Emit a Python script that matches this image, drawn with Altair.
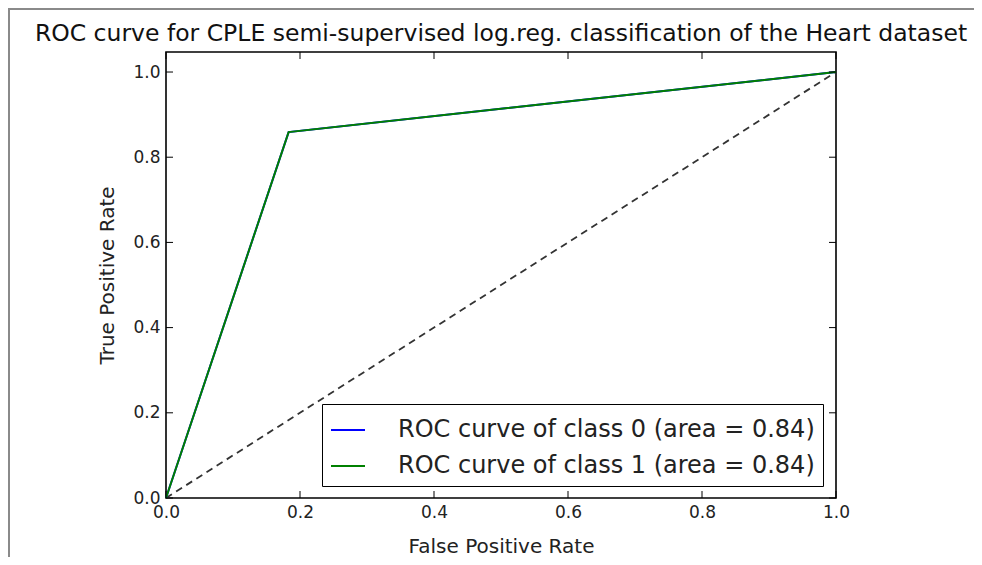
import altair as alt
import pandas as pd

# ---- data ----
fpr = [0.0, 0.183, 1.0]
tpr = [0.0, 0.859, 1.0]
class_labels = ["ROC curve of class 0 (area = 0.84)", "ROC curve of class 1 (area = 0.84)"]
class_colors = ["#0000ff", "#008000"]
diag_x = [0.0, 1.0]
diag_y = [0.0, 1.0]
tick_values = [0.0, 0.2, 0.4, 0.6, 0.8, 1.0]

W, H = 670, 446
TL = 7  # inward tick length
FONT = "DejaVu Sans"

roc_rows = []
for lab in class_labels:
    for fx, ty in zip(fpr, tpr):
        roc_rows.append({"fpr": fx, "tpr": ty, "series": lab})
roc_df = pd.DataFrame(roc_rows)
diag_df = pd.DataFrame({"fpr": diag_x, "tpr": diag_y})
ticks_df = pd.DataFrame({"t": tick_values})

xscale = alt.Scale(domain=[0, 1], nice=False, zero=False)
yscale = alt.Scale(domain=[0, 1.047], nice=False, zero=False)

xaxis = alt.Axis(values=tick_values, format=".1f", title="False Positive Rate",
                 tickSize=0, domain=False, grid=False, labelPadding=6,
                 titlePadding=16, labelFlush=False)
yaxis = alt.Axis(values=tick_values, format=".1f", title="True Positive Rate",
                 tickSize=0, domain=False, grid=False, labelPadding=6,
                 titlePadding=15)

diag = alt.Chart(diag_df).mark_line(color="#333333", strokeDash=[7, 5], strokeWidth=1.8).encode(
    x=alt.X("fpr:Q", scale=xscale, axis=xaxis),
    y=alt.Y("tpr:Q", scale=yscale, axis=yaxis),
)

roc = alt.Chart(roc_df).mark_line(strokeWidth=2).encode(
    x=alt.X("fpr:Q", scale=xscale),
    y=alt.Y("tpr:Q", scale=yscale),
    color=alt.Color("series:N",
                    scale=alt.Scale(domain=class_labels, range=class_colors),
                    legend=alt.Legend(title=None, orient="none", legendX=156, legendY=352,
                                      symbolType="stroke", symbolSize=1156, symbolStrokeWidth=2,
                                      labelFontSize=24, labelFont=FONT, labelColor="#222222",
                                      labelOffset=32, labelLimit=700, rowPadding=6,
                                      padding=8, strokeColor="#000000", fillColor="#ffffff")),
    detail="series:N",
)

tick_style = dict(color="#000000", strokeWidth=1)
xt_bottom = alt.Chart(ticks_df).mark_rule(**tick_style).encode(
    x=alt.X("t:Q", scale=xscale), y=alt.value(H), y2=alt.value(H - TL))
xt_top = alt.Chart(ticks_df).mark_rule(**tick_style).encode(
    x=alt.X("t:Q", scale=xscale), y=alt.value(0), y2=alt.value(TL))
yt_left = alt.Chart(ticks_df).mark_rule(**tick_style).encode(
    y=alt.Y("t:Q", scale=yscale), x=alt.value(0), x2=alt.value(TL))
yt_right = alt.Chart(ticks_df).mark_rule(**tick_style).encode(
    y=alt.Y("t:Q", scale=yscale), x=alt.value(W), x2=alt.value(W - TL))

# outer screenshot frame (decoration)
frame_top = alt.Chart(ticks_df.head(1)).mark_rect(color="#8a8a8a").encode(
    x=alt.value(-158), x2=alt.value(830), y=alt.value(-44), y2=alt.value(-42))
frame_left = alt.Chart(ticks_df.head(1)).mark_rect(color="#8a8a8a").encode(
    x=alt.value(-158), x2=alt.value(-156), y=alt.value(-44), y2=alt.value(H + 70))

chart = alt.layer(diag, roc, xt_bottom, xt_top, yt_left, yt_right, frame_top, frame_left).properties(
    width=W, height=H,
    title=alt.TitleParams("ROC curve for CPLE semi-supervised log.reg. classification of the Heart dataset",
                          fontSize=23.5, font=FONT, fontWeight="normal", color="#111111",
                          offset=-37, anchor="middle", frame="group"),
    autosize=alt.AutoSizeParams(type="none"),
    padding={"left": 158, "top": 44, "right": 138, "bottom": 59},
    background="#ffffff",
).configure_view(
    stroke="#000000", strokeWidth=1.6
).configure_axis(
    labelFont=FONT, labelFontSize=17, labelColor="#222222",
    titleFont=FONT, titleFontSize=20, titleColor="#222222", titleFontWeight="normal",
)

chart.save("out.html", embed_options={"renderer": "svg", "actions": False})
